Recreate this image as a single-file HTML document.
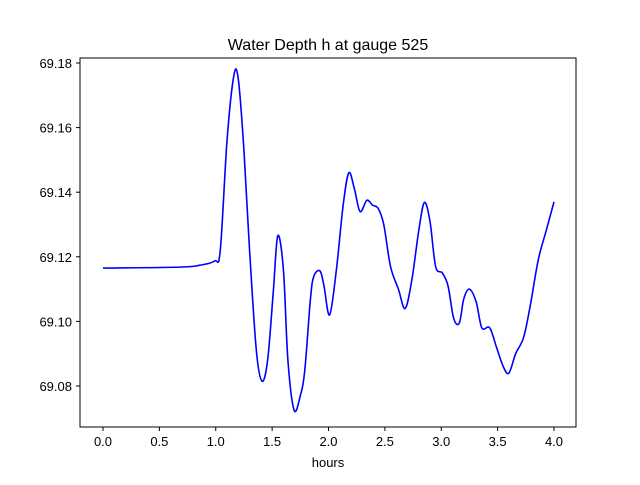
<!DOCTYPE html>
<html><head><meta charset="utf-8"><style>
body{margin:0;background:#fff;}
svg{font-family:"Liberation Sans","DejaVu Sans",sans-serif;}
</style></head><body>
<svg id="chart" width="640" height="480">
<rect width="640" height="480" fill="#fff"/>
<text x="328" y="50" text-anchor="middle" font-size="16">Water Depth h at gauge 525</text>
<g id="ticks"></g>
<path id="line" fill="none" stroke="#0000ff" stroke-width="1.6"/>
<rect x="80" y="58" width="496" height="369" fill="none" stroke="#000" stroke-width="1"/>
<text x="328" y="467" text-anchor="middle" font-size="13">hours</text>
</svg>
<script>
const hours=[0,0.68,0.86,0.99,1.04,1.10,1.16,1.20,1.25,1.30,1.36,1.41,1.46,1.51,1.55,1.60,1.64,1.695,1.75,1.79,1.84,1.87,1.925,1.96,2.01,2.07,2.13,2.18,2.23,2.28,2.34,2.39,2.44,2.49,2.55,2.62,2.68,2.74,2.80,2.85,2.90,2.95,3.01,3.06,3.11,3.16,3.20,3.25,3.31,3.36,3.43,3.49,3.55,3.60,3.66,3.73,3.79,3.86,3.93,4.0];
const depth=[69.1165,69.1168,69.1174,69.1187,69.122,69.156,69.176,69.175,69.153,69.122,69.091,69.0815,69.088,69.109,69.1265,69.116,69.088,69.0725,69.077,69.085,69.107,69.114,69.1156,69.111,69.102,69.116,69.136,69.146,69.141,69.134,69.1375,69.136,69.135,69.130,69.117,69.110,69.104,69.113,69.128,69.1368,69.131,69.117,69.115,69.111,69.101,69.0995,69.107,69.110,69.106,69.098,69.098,69.092,69.086,69.084,69.090,69.095,69.105,69.119,69.128,69.137];
const xTicks=[0,0.5,1.0,1.5,2.0,2.5,3.0,3.5,4.0];
const xTickLabels=["0.0","0.5","1.0","1.5","2.0","2.5","3.0","3.5","4.0"];
const yTicks=[69.08,69.10,69.12,69.14,69.16,69.18];
const yTickLabels=["69.08","69.10","69.12","69.14","69.16","69.18"];
const X=v=>103+(v-0)*(554-103)/4;
const Y=v=>386-(v-69.08)*(386-63)/0.1;
const NS="http://www.w3.org/2000/svg";
const g=document.getElementById('ticks');
function mk(t,a){const e=document.createElementNS(NS,t);for(const k in a)e.setAttribute(k,a[k]);return e;}
xTicks.forEach((v,i)=>{
 const l=mk('line',{x1:X(v),x2:X(v),y1:427,y2:431,stroke:'#000'});
 
 
 g.appendChild(l);
 const t=mk('text',{x:X(v),y:446,'text-anchor':'middle','font-size':13});
 t.textContent=xTickLabels[i];
 
 
 g.appendChild(t);
});
yTicks.forEach((v,i)=>{
 const l=mk('line',{x1:76,x2:80,y1:Y(v),y2:Y(v),stroke:'#000'});
 
 
 g.appendChild(l);
 const t=mk('text',{x:72,y:Y(v)+5,'text-anchor':'end','font-size':13});
 t.textContent=yTickLabels[i];
 
 
 g.appendChild(t);
});
const P=hours.map((h,i)=>[X(h),Y(depth[i])]);
let d='M'+P[0][0]+','+P[0][1];
for(let i=0;i<P.length-1;i++){
 const p0=P[Math.max(0,i-1)],p1=P[i],p2=P[i+1],p3=P[Math.min(P.length-1,i+2)];
 const c1=[p1[0]+(p2[0]-p0[0])/6,p1[1]+(p2[1]-p0[1])/6];
 const c2=[p2[0]-(p3[0]-p1[0])/6,p2[1]-(p3[1]-p1[1])/6];
 d+=`C${c1[0]},${c1[1]} ${c2[0]},${c2[1]} ${p2[0]},${p2[1]}`;
}
document.getElementById('line').setAttribute('d',d);
</script>
</body></html>
